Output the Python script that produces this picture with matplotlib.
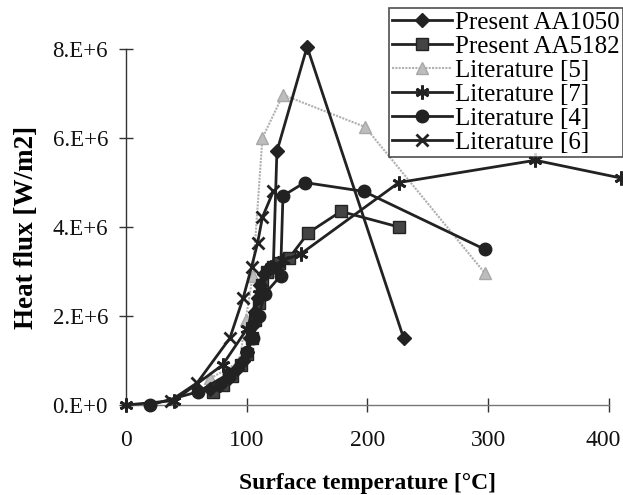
import matplotlib
matplotlib.use("Agg")
import matplotlib.pyplot as plt
import matplotlib.transforms as mtransforms
import numpy as np

plt.rcParams['font.family'] = ['Liberation Serif', 'DejaVu Serif']

# Data (temperature in °C, heat flux in W/m2 as multiples of 1e6)
aa1050_x = [70, 78, 85, 92, 97, 100, 103, 105, 107, 109, 111, 114, 118, 122, 125, 150, 230]
aa1050_y = [0.35, 0.45, 0.6, 0.8, 1.0, 1.2, 1.5, 1.8, 2.1, 2.4, 2.7, 2.95, 3.05, 3.1, 5.7, 8.05, 1.5]

aa5182_x = [72, 80, 88, 95, 100, 104, 107, 110, 113, 117, 122, 127, 135, 151, 178, 226]
aa5182_y = [0.3, 0.45, 0.65, 0.9, 1.15, 1.5, 1.9, 2.3, 2.7, 3.0, 3.1, 3.2, 3.3, 3.87, 4.35, 4.0]

lit5_x = [70, 94, 99, 105, 113, 130, 198, 297]
lit5_y = [0.6, 0.97, 1.9, 2.9, 6.0, 6.97, 6.25, 2.97]

lit7_x = [0, 40, 80, 100, 110, 120, 130, 145, 226, 339, 410]
lit7_y = [0.0, 0.1, 0.9, 1.7, 2.5, 3.1, 3.25, 3.4, 5.0, 5.5, 5.1]

lit4_x = [20, 60, 85, 100, 105, 110, 115, 128, 130, 148, 197, 297]
lit4_y = [0.0, 0.3, 0.7, 1.2, 1.5, 2.0, 2.5, 2.9, 4.7, 5.0, 4.8, 3.5]

lit6_x = [37, 59, 86, 97, 104, 109, 113, 122]
lit6_y = [0.1, 0.5, 1.5, 2.4, 3.1, 3.64, 4.22, 4.8]

x_ticks = [0, 100, 200, 300, 400]
y_ticks = [0, 2e6, 4e6, 6e6, 8e6]
y_tick_labels = ['0.E+0', '2.E+6', '4.E+6', '6.E+6', '8.E+6']

fig = plt.figure(figsize=(6.23, 4.95), dpi=100)
ax = fig.add_axes([0.2022, 0.1818, 0.7753, 0.7192])

dark = '#222222'
ms = 8
scale = 1e6
ax.plot(aa1050_x, np.array(aa1050_y) * scale, color=dark, lw=2, marker='D', ms=7,
        label='Present AA1050', clip_on=False, zorder=5)
ax.plot(aa5182_x, np.array(aa5182_y) * scale, color=dark, lw=2, marker='s', ms=ms,
        mfc='#444444', label='Present AA5182', clip_on=False, zorder=4)
ax.plot(lit5_x, np.array(lit5_y) * scale, color='#b0b0b0', lw=1.5, ls=(0, (1, 0.6)),
        marker='^', ms=9, mfc='#bdbdbd', mec='#a8a8a8', label='Literature [5]',
        clip_on=False, zorder=3)
ax.plot(lit7_x, np.array(lit7_y) * scale, color=dark, lw=2, marker=(6, 2, 0), ms=10,
        mew=2, label='Literature [7]', clip_on=False, zorder=4)
ax.plot(lit4_x, np.array(lit4_y) * scale, color=dark, lw=2, marker='o', ms=ms + 1,
        label='Literature [4]', clip_on=False, zorder=4)
ax.plot(lit6_x, np.array(lit6_y) * scale, color=dark, lw=2, marker='x', ms=9, mew=2,
        label='Literature [6]', clip_on=False, zorder=4)

ax.set_xlim(0, 400)
ax.set_ylim(0, 8e6)
ax.set_xticks(x_ticks)
ax.set_xticklabels([str(t) for t in x_ticks])
ax.set_yticks(y_ticks)
ax.set_yticklabels(y_tick_labels)

for s in ['top', 'right']:
    ax.spines[s].set_visible(False)
ax.spines['left'].set_color('#333333')
ax.spines['left'].set_linewidth(1.0)
ax.spines['bottom'].set_color('#777777')
ax.spines['bottom'].set_linewidth(1.0)
ax.tick_params(axis='both', direction='inout', length=10, width=1, color='#333333',
               labelcolor='#111111')
ax.tick_params(axis='x', pad=13, labelsize=17)
ax.tick_params(axis='y', pad=8, labelsize=16.5)

# nudge the last x tick label so it stays inside the picture
last = ax.get_xticklabels()[-1]
last.set_transform(last.get_transform() + mtransforms.ScaledTranslation(-6 / 100, 0, fig.dpi_scale_trans))

ax.set_xlabel('Surface temperature [°C]', fontsize=17, fontweight='bold', labelpad=16)
ax.set_ylabel('Heat flux [W/m2]', fontsize=19.5, fontweight='bold', labelpad=10)

leg = ax.legend(loc='upper right', bbox_to_anchor=(1.0, 0.983), bbox_transform=fig.transFigure,
                fontsize=18, frameon=True, fancybox=False, edgecolor='#222222',
                handlelength=2.4, handletextpad=0.15, borderpad=0.12, labelspacing=0.06,
                borderaxespad=0)
leg.get_frame().set_linewidth(1.2)
leg.set_zorder(10)

fig.savefig('out.png', dpi=100, facecolor='white')
